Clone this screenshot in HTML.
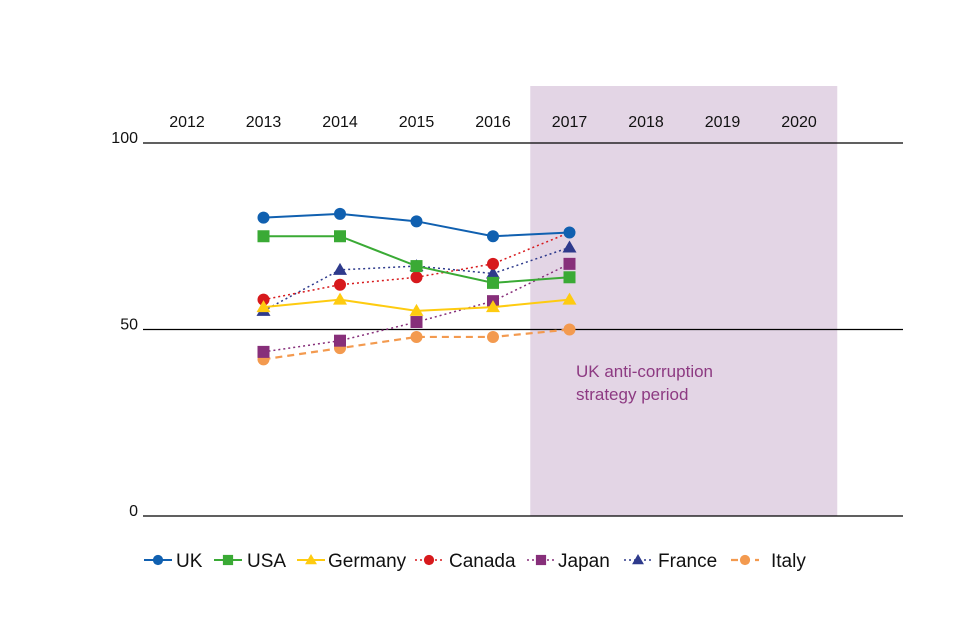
<!DOCTYPE html>
<html><head><meta charset="utf-8"><style>
body{margin:0;background:#fff;}
svg{display:block;font-family:"Liberation Sans",Arial,sans-serif;}
</style></head><body>
<svg id="c" width="960" height="640" viewBox="0 0 960 640"></svg>
<script>
const years=[2012,2013,2014,2015,2016,2017,2018,2019,2020];
const yTicks=[0,50,100];
const seriesNames=["Italy","Japan","France","Canada","Germany","USA","UK"];
const ukVals=[80,81,79,75,76];
const usaVals=[75,75,67,62.5,64];
const germanyVals=[56,58,55,56,58];
const canadaVals=[58,62,64,67.6,76];
const japanVals=[44,47,52,57.6,67.6];
const franceVals=[55,66,67,65,72];
const italyVals=[42,45,48,48,50];
const dataYears=[2013,2014,2015,2016,2017];
const shadeYears=[2016.5,2020.5];
const NS="http://www.w3.org/2000/svg";
const svg=document.getElementById('c');
const x=y=>187+(y-2012)*76.5;
const yS=v=>516-v*3.73;
function mk(t,a,p){const e=document.createElementNS(NS,t);for(const k in a)e.setAttribute(k,a[k]);(p||svg).appendChild(e);return e;}
const styles={
UK:{c:"#1060b0",d:"",m:"circle",w:2,vals:ukVals},
USA:{c:"#3aaa35",d:"",m:"square",w:2,vals:usaVals},
Germany:{c:"#fecb10",d:"",m:"triangle",w:2,vals:germanyVals},
Canada:{c:"#d7191c",d:"2,3",m:"circle",w:1.5,vals:canadaVals,skipLast:true},
Japan:{c:"#872f7a",d:"2,3",m:"square",w:1.5,vals:japanVals},
France:{c:"#2e3a8c",d:"2,3",m:"triangle",w:1.5,vals:franceVals},
Italy:{c:"#f39a4f",d:"7,5",m:"circle",w:2.2,vals:italyVals}};
const sh=mk('rect',{x:x(shadeYears[0])-1,y:86,width:x(shadeYears[1])-x(shadeYears[0])+1,height:430,fill:"#e3d5e5"});


const st=mk('text',{x:576,y:377,fill:"#8d3a82","font-size":17});st.textContent="UK anti-corruption";


const st2=mk('text',{x:576,y:400,fill:"#8d3a82","font-size":17});st2.textContent="strategy period";


years.forEach(yr=>{const t=mk('text',{x:x(yr),y:127,"text-anchor":"middle","font-size":16,fill:"#111"});t.textContent=yr;

});
yTicks.forEach(v=>{const l=mk('line',{x1:143,x2:903,y1:yS(v),y2:yS(v),stroke:"#000","stroke-width":1.2});


const t=mk('text',{x:138,y:yS(v),"text-anchor":"end","font-size":16,fill:"#111"});t.textContent=v;

});
function marker(m,cx,cy,c,g,s){s=s||1;let e;
if(m==="circle")e=mk('circle',{cx,cy,r:6*s,fill:c},g);
else if(m==="square")e=mk('rect',{x:cx-6*s,y:cy-6*s,width:12*s,height:12*s,fill:c},g);
else e=mk('polygon',{points:`${cx},${cy-7*s} ${cx+7*s},${cy+5*s} ${cx-7*s},${cy+5*s}`,fill:c},g);
return e;}
seriesNames.forEach(n=>{const s=styles[n];const g=mk('g',{});


const pts=s.vals.map((v,i)=>x(dataYears[i])+","+yS(v)).join(" ");
const pl=mk('polyline',{points:pts,fill:"none",stroke:s.c,"stroke-width":s.w,"stroke-dasharray":s.d},g);


s.vals.forEach((v,i)=>{if(s.skipLast&&i===s.vals.length-1)return;const e=marker(s.m,x(dataYears[i]),yS(v),s.c,g);

});});
const leg=[["UK",144,176],["USA",214,247],["Germany",297,328],["Canada",415,449],["Japan",527,558],["France",624,658],["Italy",731,771]];
const lg=mk('g',{});


leg.forEach(([n,sx,tx])=>{const s=styles[n];const g=mk('g',{},lg);


mk('line',{x1:sx,x2:sx+28,y1:560,y2:560,stroke:s.c,"stroke-width":s.w,"stroke-dasharray":s.d},g);
marker(s.m,sx+14,560,s.c,g,0.85);
const t=mk('text',{x:tx,y:567,"font-size":19,fill:"#111"},g);t.textContent=n;});
</script>
</body></html>
